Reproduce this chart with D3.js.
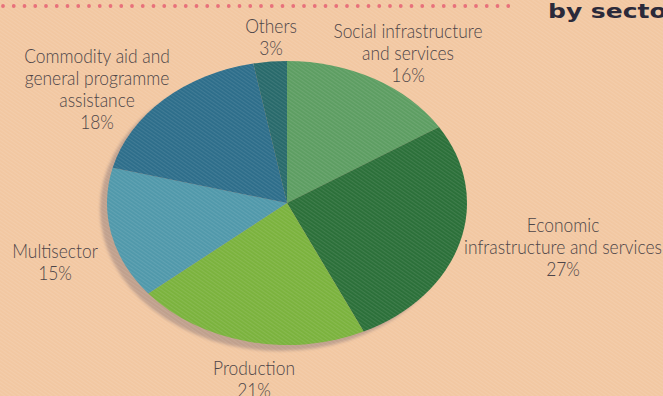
<!DOCTYPE html>
<html>
<head>
<meta charset="utf-8">
<script src="https://cdn.jsdelivr.net/npm/d3@7"></script>
<style>
  html, body { margin: 0; padding: 0; background: #f2c7a1; overflow: hidden; }
  svg { display: block; }
</style>
</head>
<body>
<svg id="chart" width="663" height="396"></svg>
<script>
// ODA commitments by sector (share of total, %)
const sectors = [
  "Social infrastructure and services",
  "Economic infrastructure and services",
  "Production",
  "Multisector",
  "Commodity aid and general programme assistance",
  "Others"
];
const shares = [16, 27, 21, 15, 18, 3];
const labelLines = [
  ["Social infrastructure", "and services"],
  ["Economic", "infrastructure and services"],
  ["Production"],
  ["Multisector"],
  ["Commodity aid and", "general programme", "assistance"],
  ["Others"]
];
const sliceColors = ["#5c9d61", "#2a6f38", "#7ab23c", "#4f98aa", "#2c6d8a", "#27696a"];

// label block placement: centre x and first baseline y
const labelPlacement = [
  { x: 408, y: 38 },
  { x: 563, y: 232 },
  { x: 254, y: 375 },
  { x: 55,  y: 258 },
  { x: 97,  y: 63 },
  { x: 271, y: 33 }
];

const W = 663, H = 396;
const cx = 287, cy = 203, rx = 180, ry = 142;
const lineH = 22;

const svg = d3.select("#chart");

const defs = svg.append("defs");
// fine diagonal paper grain
const grain = defs.append("pattern")
  .attr("id", "grain").attr("patternUnits", "userSpaceOnUse")
  .attr("width", 3).attr("height", 3)
  .attr("patternTransform", "rotate(35)");
grain.append("rect").attr("width", 3).attr("height", 1.2)
  .attr("fill", "#ffffff").attr("opacity", 0.10);
defs.append("filter").attr("id", "soft")
  .append("feGaussianBlur").attr("stdDeviation", 1.6);

svg.append("rect").attr("width", W).attr("height", H).attr("fill", "#f2c7a1");

// pie laid out on a circle of radius rx, squashed vertically into an ellipse
const pie = d3.pie().sort(null).value(d => d)(shares);
const arc = d3.arc().innerRadius(0).outerRadius(rx);

svg.append("ellipse")
  .attr("cx", cx - 7).attr("cy", cy + 6).attr("rx", rx).attr("ry", ry)
  .attr("fill", "#bf9f8b").attr("filter", "url(#soft)");

const pieG = svg.append("g")
  .attr("transform", `translate(${cx},${cy}) scale(1,${ry / rx})`);
pieG.selectAll("path").data(pie).join("path")
  .attr("d", arc)
  .attr("fill", (d, i) => sliceColors[i]);

svg.append("rect").attr("width", W).attr("height", H).attr("fill", "url(#grain)");

// dotted rule along the top edge
svg.append("line")
  .attr("x1", 3).attr("x2", 511).attr("y1", 6).attr("y2", 6)
  .attr("stroke", "#e8717b").attr("stroke-width", 3.8)
  .attr("stroke-linecap", "round")
  .attr("stroke-dasharray", "0 10.75");

// heading, running off the right edge
svg.append("text")
  .attr("transform", "translate(548,18) scale(1.25,1)")
  .attr("font-family", "'DejaVu Sans', sans-serif")
  .attr("font-weight", "bold").attr("font-size", 20)
  .attr("fill", "#2b2a3a")
  .text("by sector");

// sector labels with their shares
const labels = svg.append("g")
  .attr("font-family", "Lato, 'Open Sans', sans-serif")
  .attr("font-weight", 300)
  .attr("font-size", 20)
  .attr("fill", "#4d4548");

sectors.forEach((name, i) => {
  const lines = labelLines[i].concat([shares[i] + "%"]);
  const p = labelPlacement[i];
  lines.forEach((t, j) => {
    labels.append("text")
      .attr("transform", `translate(${p.x},${p.y + j * lineH}) scale(0.87,1)`)
      .attr("text-anchor", "middle")
      .text(t);
  });
});
</script>
</body>
</html>
